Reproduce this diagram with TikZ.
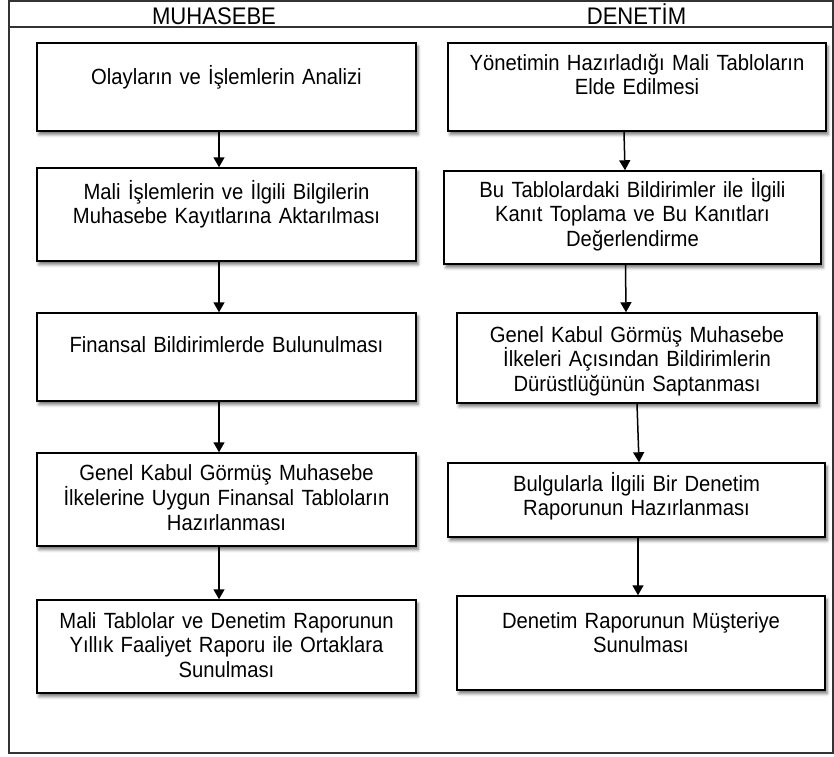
\documentclass[tikz,border=0pt]{standalone}
\usepackage{fontspec}
\setmainfont{Liberation Sans}[FakeStretch=0.92]
\usetikzlibrary{arrows.meta,positioning,shadows.blur}
\tikzstyle{stepbox} = [rectangle, draw=black, line width=1.5pt, fill=white, inner sep=0pt, blur shadow={shadow xshift=2pt, shadow yshift=-3.5pt, shadow blur radius=3pt, shadow opacity=55}]
\tikzstyle{steptext} = [anchor=base, text width=370pt, align=center, inner sep=0pt, font=\fontsize{22}{24.6}\selectfont]
\tikzstyle{head} = [anchor=base, inner sep=0pt, font=\fontsize{24}{28}\selectfont]
\tikzstyle{flow} = [line width=1.5pt, -{Triangle[width=11pt,length=10pt]}]

\begin{document}
\begin{tikzpicture}[x=1pt, y=-1pt]
\useasboundingbox (0,0) rectangle (834,756);

% frame and header
\draw[line width=2pt, black!80] (9,1) rectangle (833,753);
\draw[line width=2pt, black!80] (9,27) -- (833,27);
\node (hmuh) [head] at (214,24) {MUHASEBE};
\node (hden) [head] at (636.5,24) {DENETİM};

% muhasebe
\node (muh1) [stepbox, minimum width=379pt, minimum height=88pt] at (226.5,87) {};
\node (muh2) [stepbox, minimum width=379pt, minimum height=93pt] at (226.5,214.5) {};
\node (muh3) [stepbox, minimum width=379pt, minimum height=88pt] at (226.5,357) {};
\node (muh4) [stepbox, minimum width=379pt, minimum height=93pt] at (226.5,499.5) {};
\node (muh5) [stepbox, minimum width=379pt, minimum height=93pt] at (226.5,646.5) {};

\node (muh1t) [steptext] at ([yshift=-42pt]muh1.north) {Olayların ve İşlemlerin Analizi};
\node (muh2t) [steptext] at ([yshift=-32pt]muh2.north) {Mali İşlemlerin ve İlgili Bilgilerin\\Muhasebe Kayıtlarına Aktarılması};
\node (muh3t) [steptext] at ([yshift=-40pt]muh3.north) {Finansal Bildirimlerde Bulunulması};
\node (muh4t) [steptext] at ([yshift=-28.7pt]muh4.north) {Genel Kabul Görmüş Muhasebe\\İlkelerine Uygun Finansal Tabloların\\Hazırlanması};
\node (muh5t) [steptext] at ([yshift=-29pt]muh5.north) {Mali Tablolar ve Denetim Raporunun\\Yıllık Faaliyet Raporu ile Ortaklara\\Sunulması};

% denetim
\node (den1) [stepbox, minimum width=378pt, minimum height=88pt] at (637,87) {};
\node (den2) [stepbox, minimum width=377pt, minimum height=93pt] at (632.5,217.5) {};
\node (den3) [stepbox, minimum width=360pt, minimum height=90pt] at (637,358) {};
\node (den4) [stepbox, minimum width=377pt, minimum height=74pt] at (636.5,500) {};
\node (den5) [stepbox, minimum width=368pt, minimum height=94pt] at (641,643) {};

\node (den1t) [steptext] at ([yshift=-28pt]den1.north) {Yönetimin Hazırladığı Mali Tabloların\\Elde Edilmesi};
\node (den2t) [steptext] at ([yshift=-27pt]den2.north) {Bu Tablolardaki Bildirimler ile İlgili\\Kanıt Toplama ve Bu Kanıtları\\Değerlendirme};
\node (den3t) [steptext] at ([yshift=-30pt]den3.north) {Genel Kabul Görmüş Muhasebe\\İlkeleri Açısından Bildirimlerin\\Dürüstlüğünün Saptanması};
\node (den4t) [steptext] at ([yshift=-29pt]den4.north) {Bulgularla İlgili Bir Denetim\\Raporunun Hazırlanması};
\node (den5t) [steptext] at ([yshift=-33pt]den5.north) {Denetim Raporunun Müşteriye\\Sunulması};

% arrows
\foreach \a/\b in {muh1/muh2, muh2/muh3, muh3/muh4, muh4/muh5}
  \draw[flow] ([xshift=-7.5pt]\a.south) -- ([xshift=-7.5pt]\b.north);
\draw[flow] ([xshift=-13pt]den1.south) -- ([xshift=-7.5pt]den2.north);
\draw[flow] ([xshift=-7pt]den2.south) -- ([xshift=-11pt]den3.north);
\draw[flow] (den3.south) -- ([xshift=2.5pt]den4.north);
\draw[flow] ([xshift=1.5pt]den4.south) -- ([xshift=-3pt]den5.north);
\end{tikzpicture}
\end{document}
